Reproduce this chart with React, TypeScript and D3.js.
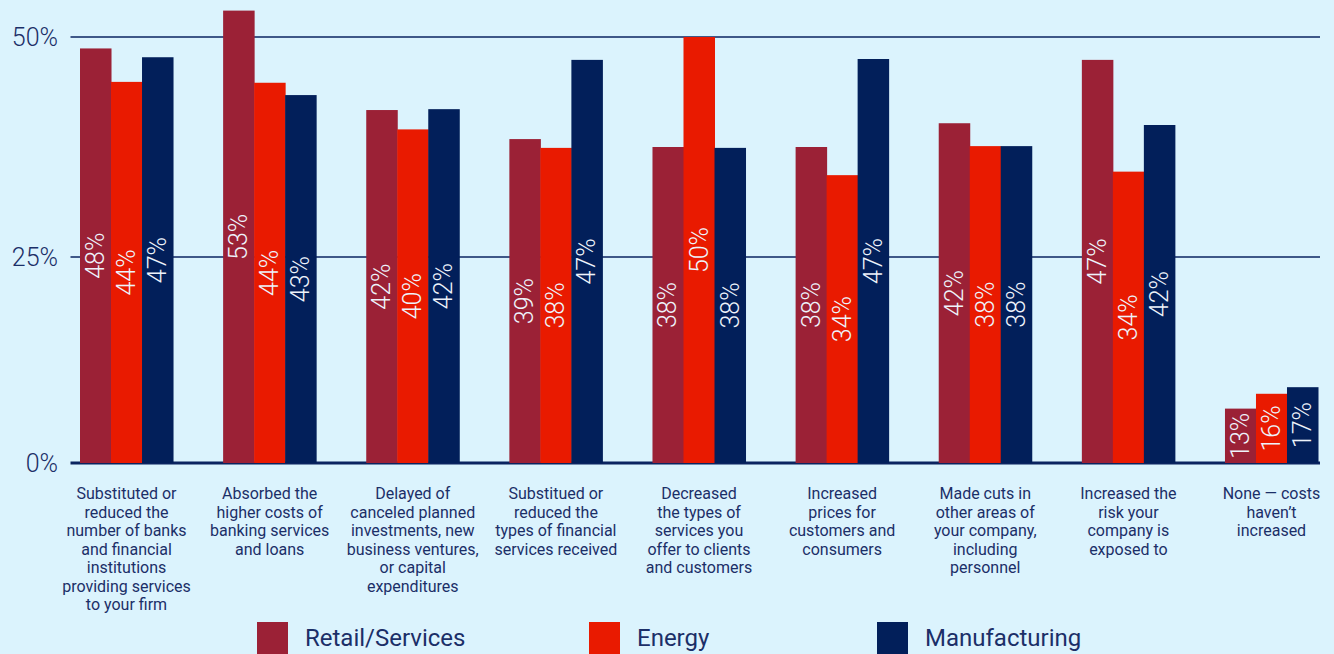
import React, { useEffect, useRef } from 'react';
import * as d3 from 'd3';

// Categories (line breaks as in the original)
const categories: string[] = [
  'Substituted or\nreduced the\nnumber of banks\nand financial\ninstitutions\nproviding services\nto your firm',
  'Absorbed the\nhigher costs of\nbanking services\nand loans',
  'Delayed of\ncanceled planned\ninvestments, new\nbusiness ventures,\nor capital\nexpenditures',
  'Substitued or\nreduced the\ntypes of financial\nservices received',
  'Decreased\nthe types of\nservices you\noffer to clients\nand customers',
  'Increased\nprices for\ncustomers and\nconsumers',
  'Made cuts in\nother areas of\nyour company,\nincluding\npersonnel',
  'Increased the\nrisk your\ncompany is\nexposed to',
  'None \u2014 costs\nhaven\u2019t\nincreased',
];

const seriesNames: string[] = ['Retail/Services', 'Energy', 'Manufacturing'];

// Printed percentages
const retailLabels: number[] = [48, 53, 42, 39, 38, 38, 42, 47, 13];
const energyLabels: number[] = [44, 44, 40, 38, 50, 34, 38, 34, 16];
const manufacturingLabels: number[] = [47, 43, 42, 47, 38, 47, 38, 42, 17];

// Bar heights as drawn in the picture (axis units)
const retailBars: number[] = [48.7, 53, 41.7, 38.4, 37.5, 37.5, 40.2, 47.4, 6.6];
const energyBars: number[] = [44.9, 44.8, 39.5, 37.4, 50, 34.3, 37.6, 34.7, 8.4];
const manufacturingBars: number[] = [47.7, 43.4, 41.8, 47.4, 37.4, 47.5, 37.6, 40, 9.2];

const yTicks: number[] = [0, 25, 50];
const yTickLabels: string[] = ['0%', '25%', '50%'];

const colors: string[] = ['#9b2136', '#e91a00', '#021f5a'];

const App: React.FC = () => {
  const chartRef = useRef<SVGSVGElement | null>(null);

  useEffect(() => {
    if (!chartRef.current) return;
    const width = 1334;
    const height = 654;
    const font = 'Roboto, "Liberation Sans", sans-serif';
    const ink = '#1b2f68';

    d3.select(chartRef.current).selectAll('*').remove();

    const svg = d3
      .select(chartRef.current)
      .attr('width', width)
      .attr('height', height);

    svg.append('rect').attr('width', width).attr('height', height).attr('fill', '#dbf3fd');

    const x = d3
      .scaleBand<number>()
      .domain(d3.range(categories.length))
      .range([80, 1318])
      .paddingInner(0.35)
      .paddingOuter(0);

    const xs = d3.scaleBand<number>().domain([0, 1, 2]).range([0, x.bandwidth()]);

    // the gridlines in the original are not evenly spaced
    const y = d3.scaleLinear().domain([0, 25, 50]).range([463, 257, 37]);

    // Gridlines
    svg
      .selectAll('.grid')
      .data(yTicks)
      .enter()
      .append('line')
      .attr('x1', 70.5)
      .attr('x2', 1320)
      .attr('y1', (d) => y(d))
      .attr('y2', (d) => y(d))
      .attr('stroke', '#0b2460')
      .attr('stroke-width', (d) => (d === 0 ? 3 : 1.5));

    // Y tick labels
    svg
      .selectAll('.ytick')
      .data(yTicks)
      .enter()
      .append('text')
      .text((d, i) => yTickLabels[i])
      .attr('x', 58)
      .attr('y', (d) => y(d))
      .attr('text-anchor', 'end')
      .attr('dominant-baseline', 'central')
      .attr('font-family', font)
      .attr('font-weight', 300)
      .attr('font-size', 25)
      .attr('fill', ink);

    const bars = [retailBars, energyBars, manufacturingBars];
    const labels = [retailLabels, energyLabels, manufacturingLabels];

    bars.forEach((series, s) => {
      const g = svg.append('g');
      g.selectAll('rect')
        .data(series)
        .enter()
        .append('rect')
        .attr('x', (d, i) => (x(i) || 0) + (xs(s) || 0))
        .attr('y', (d) => y(d))
        .attr('width', xs.bandwidth() + 0.5)
        .attr('height', (d) => y(0) - y(d))
        .attr('fill', colors[s]);

      g.selectAll('text')
        .data(series)
        .enter()
        .append('text')
        .text((d, i) => `${labels[s][i]}%`)
        .attr('transform', (d, i) => {
          const cx = (x(i) || 0) + (xs(s) || 0) + xs.bandwidth() / 2;
          const cy = (y(d) + y(0)) / 2;
          return `translate(${cx},${cy}) rotate(-90)`;
        })
        .attr('text-anchor', 'middle')
        .attr('dominant-baseline', 'central')
        .attr('font-family', font)
        .attr('font-weight', 300)
        .attr('font-size', 25)
        .attr('fill', '#eef3fb');
    });

    // Category labels
    categories.forEach((c, i) => {
      const t = svg
        .append('text')
        .attr('x', (x(i) || 0) + x.bandwidth() / 2)
        .attr('y', 499)
        .attr('text-anchor', 'middle')
        .attr('font-family', font)
        .attr('font-size', 16)
        .attr('fill', ink);
      c.split('\n').forEach((line, j) => {
        t.append('tspan')
          .attr('x', (x(i) || 0) + x.bandwidth() / 2)
          .attr('dy', j === 0 ? 0 : 18.5)
          .text(line);
      });
    });

    // Legend
    const legendX = [257, 589, 877];
    const legend = svg
      .selectAll('.legend')
      .data(seriesNames)
      .enter()
      .append('g')
      .attr('transform', (d, i) => `translate(${legendX[i]},622)`);
    legend
      .append('rect')
      .attr('width', 31)
      .attr('height', 32)
      .attr('fill', (d, i) => colors[i]);
    legend
      .append('text')
      .text((d) => d)
      .attr('x', 48)
      .attr('y', 16)
      .attr('dominant-baseline', 'central')
      .attr('font-family', font)
      .attr('font-size', 24)
      .attr('fill', ink);
  }, []);

  return (
    <div style={{ position: 'absolute', left: 0, top: 0 }}>
      <svg ref={chartRef} style={{ display: 'block' }}></svg>
    </div>
  );
};

export default App;
